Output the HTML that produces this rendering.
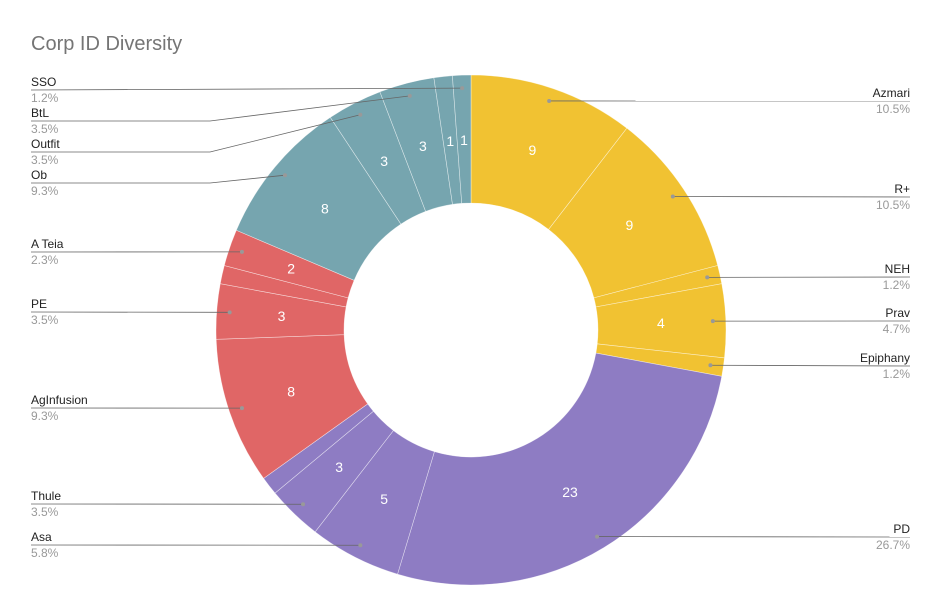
<!DOCTYPE html>
<html><head><meta charset="utf-8"><style>
body{margin:0;background:#fff;font-family:"Liberation Sans",Arial,sans-serif;}
svg{display:block}
</style></head><body>
<svg id="chart" width="942" height="616">
<rect width="942" height="616" fill="#fff"/>
<text x="31" y="50" font-size="20" fill="#757575">Corp ID Diversity</text>
<g id="slices"></g>
<g id="vals"></g>
<g id="leaders"></g>
</svg>
<script>
const categories = ["Azmari","R+","NEH","Prav","Epiphany","PD","Asa","Thule","","AgInfusion","PE","","A Teia","Ob","Outfit","BtL","","SSO"];
const values = [9,9,1,4,1,23,5,3,1,8,3,1,2,8,3,3,1,1];
const groups = ["y","y","y","y","y","p","p","p","p","r","r","r","r","t","t","t","t","t"];
const showValue = [1,1,0,1,0,1,1,1,0,1,1,0,1,1,1,1,1,1];
const colors = {y:"#f1c232",p:"#8e7cc3",r:"#e06666",t:"#76a5af"};
// label line y positions (layout)
const labelY = {"Azmari":101,"R+":197,"NEH":277,"Prav":321,"Epiphany":366,"PD":537,"Asa":545,"Thule":504,"AgInfusion":408,"PE":312,"A Teia":252,"Ob":183,"Outfit":152,"BtL":121,"SSO":90};
const cx=471, cy=330, R=255, r0=127, rDot=242, rVal=190;
const NS="http://www.w3.org/2000/svg";
const total=values.reduce((a,b)=>a+b,0);
function pt(rad,ang){return [cx+rad*Math.sin(ang), cy-rad*Math.cos(ang)];}
const gS=document.getElementById('slices'), gV=document.getElementById('vals'), gL=document.getElementById('leaders');
let a=0;
values.forEach((v,i)=>{
  const a0=a, a1=a+v/total*2*Math.PI; a=a1;
  const large=(a1-a0)>Math.PI?1:0;
  const p1=pt(R,a0),p2=pt(R,a1),p3=pt(r0,a1),p4=pt(r0,a0);
  const path=document.createElementNS(NS,'path');
  path.setAttribute('d',`M${p1}A${R},${R} 0 ${large} 1 ${p2}L${p3}A${r0},${r0} 0 ${large} 0 ${p4}Z`);
  path.setAttribute('fill',colors[groups[i]]);
  path.setAttribute('stroke','#ffffff');
  path.setAttribute('stroke-width','0.6');
  path.setAttribute('stroke-opacity','0.6');
  
  
  gS.appendChild(path);
  const mid=(a0+a1)/2;
  if(showValue[i]){
    const [tx,ty]=pt(rVal,mid);
    const t=document.createElementNS(NS,'text');
    t.setAttribute('x',tx);t.setAttribute('y',ty+5);
    t.setAttribute('text-anchor','middle');t.setAttribute('font-size','14');t.setAttribute('fill','#fff');
    
    
    t.textContent=v; gV.appendChild(t);
  }
  const name=categories[i];
  if(name){
    const [dx,dy]=pt(rDot,mid);
    const ly=labelY[name];
    const right=dx>cx;
    const ex=right?730:210, endx=right?910:31;
    const pl=document.createElementNS(NS,'polyline');
    const pts=Math.abs(dy-ly)<3?`${dx},${dy} ${endx},${ly}`:`${dx},${dy} ${ex},${ly} ${endx},${ly}`;
    pl.setAttribute('points',pts);
    pl.setAttribute('fill','none');pl.setAttribute('stroke','#666');pl.setAttribute('stroke-width','0.8');
    
    
    gL.appendChild(pl);
    const c=document.createElementNS(NS,'circle');
    c.setAttribute('cx',dx);c.setAttribute('cy',dy);c.setAttribute('r','2');c.setAttribute('fill','#999');
    
    
    gL.appendChild(c);
    const t1=document.createElementNS(NS,'text');
    t1.setAttribute('x',endx);t1.setAttribute('y',ly-4);
    t1.setAttribute('text-anchor',right?'end':'start');t1.setAttribute('font-size','12');t1.setAttribute('fill','#222');
    
    
    t1.textContent=name; gL.appendChild(t1);
    const t2=document.createElementNS(NS,'text');
    t2.setAttribute('x',endx);t2.setAttribute('y',ly+12);
    t2.setAttribute('text-anchor',right?'end':'start');t2.setAttribute('font-size','12');t2.setAttribute('fill','#999');
    
    
    t2.textContent=(v/total*100).toFixed(1)+'%'; gL.appendChild(t2);
  }
});
</script>
</body></html>
